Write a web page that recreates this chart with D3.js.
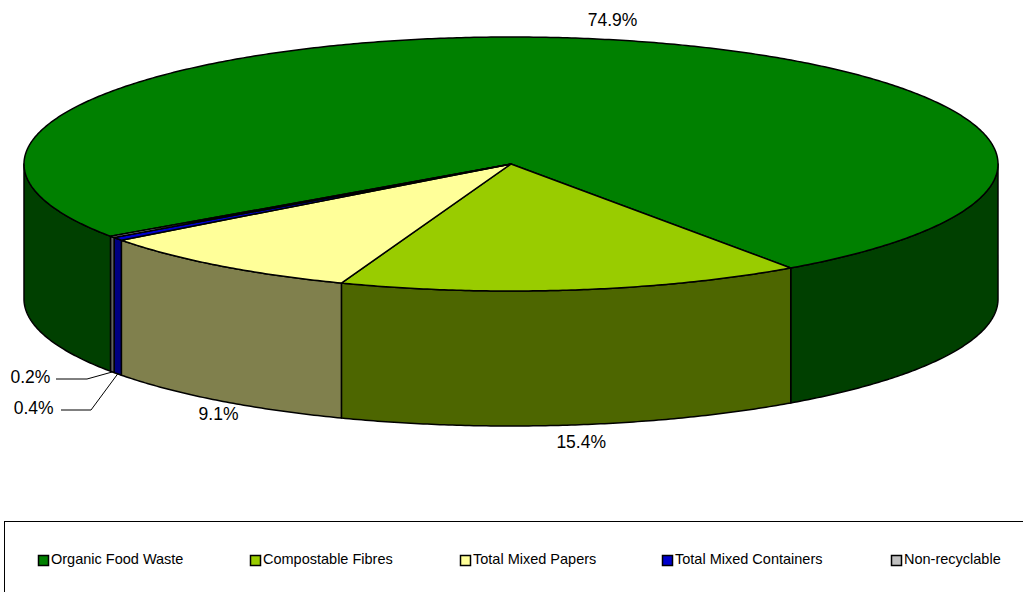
<!DOCTYPE html>
<html>
<head>
<meta charset="utf-8">
<script src="https://cdn.jsdelivr.net/npm/d3@7"></script>
<style>
  html, body { margin: 0; padding: 0; background: #fff; overflow: hidden; }
  text { font-family: "Liberation Sans", Arial, sans-serif; fill: #000; }
</style>
</head>
<body>
<div id="chart"></div>
<script>
const categories = ["Organic Food Waste", "Compostable Fibres", "Total Mixed Papers", "Total Mixed Containers", "Non-recyclable"]
const values = [74.9, 15.4, 9.1, 0.4, 0.2]
const topColors = ["#008000", "#99cc00", "#ffff99", "#0000cc", "#c0c0c0"]
const sideColors = ["#004000", "#4d6600", "#80804d", "#000080", "#606060"]
const legendX = [38, 250, 460, 662, 891]

const width = 1023, height = 592
const depth = 135
const startDeg = 235.3

const svg = d3.select("#chart").append("svg")
    .attr("width", width)
    .attr("height", height)
    .style("display", "block")

const x = d3.scaleLinear().domain([-1, 1]).range([24, 998])
const y = d3.scaleLinear().domain([-1, 1]).range([37, 291])

const rad = Math.PI / 180
const pie = d3.pie().sort(null).value(d => d)
    .startAngle(startDeg * rad)
    .endAngle((startDeg + 360) * rad)
const arcs = pie(values)

const px = a => x(Math.sin(a))
const py = a => y(-Math.cos(a))

// points along the rim between two angles
function rim(a0, a1) {
    const n = Math.max(2, Math.ceil(Math.abs(a1 - a0) / rad * 2))
    return d3.range(n + 1).map(i => {
        const a = a0 + (a1 - a0) * i / n
        return [px(a), py(a)]
    })
}

const line = d3.line()

// side walls, only the front half of the rim shows
const front = [[90, 270], [450, 630]]
arcs.forEach((d, i) => {
    front.forEach(f => {
        const a0 = Math.max(d.startAngle, f[0] * rad)
        const a1 = Math.min(d.endAngle, f[1] * rad)
        if (a1 <= a0) return
        const pts = rim(a0, a1)
        const low = pts.map(p => [p[0], p[1] + depth]).reverse()
        svg.append("path")
            .attr("d", line(pts.concat(low)) + "Z")
            .attr("fill", sideColors[i])
            .attr("stroke", "#000")
            .attr("stroke-width", 1.5)
            .attr("stroke-linejoin", "round")
    })
})

// top face
arcs.forEach((d, i) => {
    const pts = [[x(0), y(0)]].concat(rim(d.startAngle, d.endAngle))
    svg.append("path")
        .attr("d", line(pts) + "Z")
        .attr("fill", topColors[i])
        .attr("stroke", "#000")
        .attr("stroke-width", 1.5)
        .attr("stroke-linejoin", "round")
})

// value labels, offset from the slice's rim midpoint
const labelOffset = [[16, -18], [8, 18], [-1, 15], [-84, 35], [-82, 6]]
const labelPos = arcs.map((d, i) => {
    const m = (d.startAngle + d.endAngle) / 2
    const bottom = Math.cos(m) < 0 ? depth : 0
    return [px(m), py(m) + bottom, labelOffset[i]]
})

svg.selectAll("text.value")
    .data(arcs)
    .enter().append("text")
    .attr("class", "value")
    .attr("x", (d, i) => labelPos[i][0] + labelPos[i][2][0])
    .attr("y", (d, i) => labelPos[i][1] + labelPos[i][2][1])
    .attr("text-anchor", "middle")
    .attr("dominant-baseline", "middle")
    .attr("font-size", 17.5)
    .attr("fill", "#000")
    .text(d => d.value.toFixed(1) + "%")

// leader lines for the two thin slices
const leaderBend = [[], [], [], [[91, 410], [61, 410]], [[87, 379], [56, 379]]]
arcs.forEach((d, i) => {
    if (!leaderBend[i].length) return
    const p = labelPos[i]
    svg.append("path")
        .attr("d", line([[p[0], p[1]]].concat(leaderBend[i])))
        .attr("fill", "none")
        .attr("stroke", "#000")
        .attr("stroke-width", 1)
})

// legend box runs off the right and bottom edge
svg.append("rect")
    .attr("x", 4.5).attr("y", 521.5)
    .attr("width", 1100).attr("height", 200)
    .attr("fill", "#fff")
    .attr("stroke", "#000")
    .attr("stroke-width", 1)

const legend = svg.selectAll("g.legend")
    .data(categories)
    .enter().append("g")
    .attr("class", "legend")
    .attr("transform", (d, i) => `translate(${legendX[i]},560)`)

legend.append("rect")
    .attr("x", 0.5).attr("y", -4.5)
    .attr("width", 10).attr("height", 10)
    .attr("fill", (d, i) => topColors[i])
    .attr("stroke", "#000")
    .attr("stroke-width", 1.5)

legend.append("text")
    .attr("x", 13)
    .attr("y", 0.5)
    .attr("dominant-baseline", "middle")
    .attr("font-size", 14.5)
    .text(d => d)
</script>
</body>
</html>
